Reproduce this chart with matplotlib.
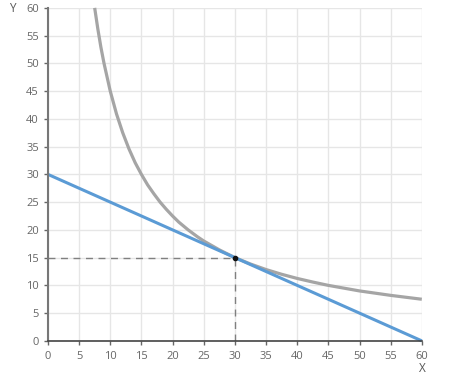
import matplotlib
matplotlib.use("Agg")
import matplotlib.pyplot as plt

plt.rcParams["font.family"] = ["Open Sans", "DejaVu Sans"]

# indifference curve
curve_x = [7.5, 8, 8.5, 9, 10, 11, 12, 13, 14, 15, 16, 17, 18, 19, 20, 21, 22.5, 24, 25,
           27.5, 30, 32.5, 35, 37.5, 40, 42.5, 45, 50, 55, 60]
curve_y = [60, 56.25, 52.9, 50, 45, 40.9, 37.5, 34.6, 32.1, 30, 28.1, 26.5, 25, 23.7,
           22.5, 21.4, 20, 18.75, 18, 16.4, 15, 13.85, 12.85, 12, 11.25, 10.6, 10, 9,
           8.2, 7.5]

# budget line
line_x = [0, 60]
line_y = [30, 0]

# optimum point
opt_x = 30
opt_y = 15

xticks = list(range(0, 61, 5))
yticks = list(range(0, 61, 5))

fig = plt.figure(figsize=(4.61, 3.75), dpi=100)
ax = fig.add_axes([0.104, 0.091, 0.811, 0.888])

ax.set_xlim(0, 60)
ax.set_ylim(0, 60)
ax.set_xticks(xticks)
ax.set_yticks(yticks)
ax.grid(True, color="#e6e6e6", linewidth=1)
ax.set_axisbelow(True)

for s in ["top", "right"]:
    ax.spines[s].set_visible(False)
ax.spines["left"].set_color("#777777")
ax.spines["left"].set_linewidth(1.5)
ax.spines["bottom"].set_color("#444444")
ax.spines["bottom"].set_linewidth(1.2)

ax.tick_params(axis="both", labelsize=8, colors="#666666", length=3, width=1)
ax.tick_params(axis="x", pad=4)

ax.plot([0, opt_x], [opt_y, opt_y], color="#808080", linestyle=(0, (5, 4)), linewidth=1)
ax.plot([opt_x, opt_x], [0, opt_y], color="#808080", linestyle=(0, (5, 4)), linewidth=1)

ax.plot(curve_x, curve_y, color="#a5a5a5", linewidth=2.3, solid_capstyle="butt", clip_on=False)
ax.plot(line_x, line_y, color="#5b9bd5", linewidth=2.2, solid_capstyle="butt", clip_on=False)
ax.plot([opt_x], [opt_y], marker="o", markersize=3, color="#111111", zorder=5)

fig.text(12 / 461, 1 - 8 / 375, "Y", fontsize=8.5, color="#555555", ha="center", va="center")
fig.text(422 / 461, 1 - 368 / 375, "X", fontsize=8.5, color="#555555", ha="center", va="center")

fig.savefig("out.png", dpi=100)
